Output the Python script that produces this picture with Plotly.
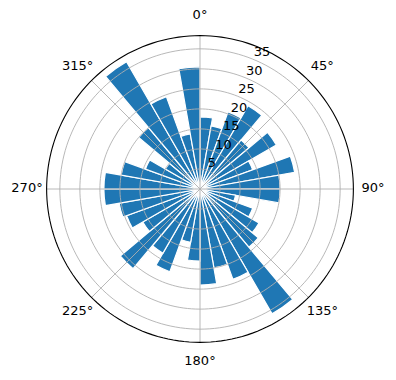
import plotly.graph_objects as go

# bar centres (degrees, clockwise from north) and bar heights
theta_deg = [5, 15, 25, 35, 45, 55, 65, 75, 85,
             95, 105, 115, 125, 135, 145, 155, 165, 175,
             185, 195, 205, 215, 225, 235, 245, 255, 265,
             275, 285, 295, 305, 315, 325, 335, 345, 355]
radii = [18, 16, 20.5, 24, 16, 22, 14, 24, 20,
         20, 9, 14, 17, 19, 36, 24, 20, 24,
         18, 13.5, 22, 18.5, 26, 16.5, 19.5, 20.5, 24,
         24, 20, 14.5, 10, 20, 36.7, 24.5, 14, 30.5]

angle_ticks = [0, 45, 90, 135, 180, 225, 270, 315]
angle_labels = ["0°", "45°", "90°", "135°", "180°", "225°", "270°", "315°"]
r_ticks = [5, 10, 15, 20, 25, 30, 35]
r_labels = ["5", "10", "15", "20", "25", "30", "35"]
r_max = 38.3            # outer frame of the polar plot
r_label_pos = 43.2      # where the angle labels sit
r_range = 43.7          # plotly range (room for the angle labels)
r_label_angle = 22.5

GRID = "#b0b0b0"
FONT = "DejaVu Sans"

fig = go.Figure()
fig.add_trace(go.Barpolar(
    r=radii, theta=theta_deg, width=[10] * len(radii),
    marker=dict(color="#1f77b4", line=dict(color="white", width=1.2)),
    hoverinfo="skip",
))

# grid drawn above the bars (as in the reference)
circle_theta = [i * 2 for i in range(181)]
for rv in r_ticks:
    fig.add_trace(go.Scatterpolar(
        r=[rv] * len(circle_theta), theta=circle_theta, mode="lines",
        line=dict(color=GRID, width=0.9), hoverinfo="skip",
    ))
for a in angle_ticks:
    fig.add_trace(go.Scatterpolar(
        r=[0, r_max], theta=[a, a], mode="lines",
        line=dict(color=GRID, width=0.9), hoverinfo="skip",
    ))
# outer frame
fig.add_trace(go.Scatterpolar(
    r=[r_max] * len(circle_theta), theta=circle_theta, mode="lines",
    line=dict(color="black", width=1.1), hoverinfo="skip",
))

# radial tick labels (horizontal, left-bottom anchored like matplotlib)
fig.add_trace(go.Scatterpolar(
    r=r_ticks, theta=[r_label_angle] * len(r_ticks), mode="text",
    text=r_labels, textposition="top right",
    textfont=dict(family=FONT, size=13, color="black"),
    hoverinfo="skip",
))

# angular tick labels, centred just outside the frame
fig.add_trace(go.Scatterpolar(
    r=[r_label_pos] * len(angle_ticks), theta=angle_ticks, mode="text",
    text=angle_labels, textposition="middle center",
    textfont=dict(family=FONT, size=13, color="black"),
    cliponaxis=False, hoverinfo="skip",
))

fig.update_layout(
    width=396, height=380,
    margin=dict(l=25, r=21, t=14, b=16),
    paper_bgcolor="white",
    showlegend=False,
    font=dict(family=FONT, size=13, color="black"),
    polar=dict(
        bgcolor="rgba(0,0,0,0)",
        bargap=0,
        radialaxis=dict(
            range=[0, r_range], showgrid=False,
            showline=False, ticks="", showticklabels=False,
        ),
        angularaxis=dict(
            rotation=90, direction="clockwise",
            showticklabels=False, showgrid=False,
            showline=False, ticks="",
        ),
    ),
)

fig.write_html("out.html")
